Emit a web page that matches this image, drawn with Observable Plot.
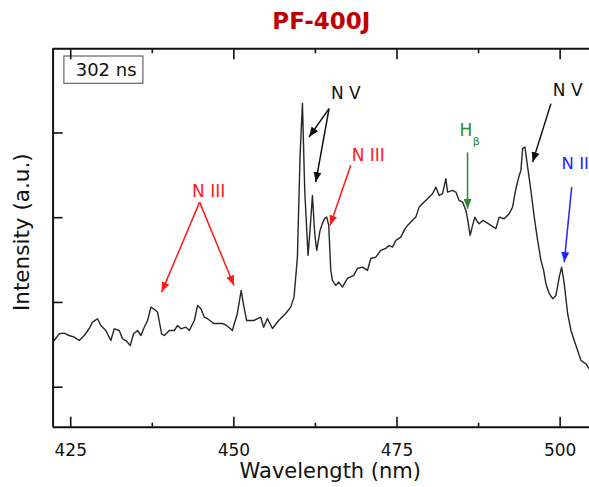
<!DOCTYPE html>
<html>
<head>
<meta charset="utf-8">
<script src="https://cdn.jsdelivr.net/npm/d3@7"></script>
<script src="https://cdn.jsdelivr.net/npm/@observablehq/plot@0.6"></script>
<style>
  html, body { margin: 0; padding: 0; background: #fff; }
  svg { display: block; }
</style>
</head>
<body>
<div id="chart"></div>
<script>
// ---- data ----
const xTicks = [425, 450, 475, 500];
const xMinor = [437.5, 462.5, 487.5];
const yTicks = [1, 2, 3, 4];
const xDomain = [422.3, 504.5];
const yDomain = [0.528, 4.993];

const wavelength = [
  422.47, 423.24, 424.00, 424.77, 425.54, 426.30, 427.07, 427.84, 428.34, 429.11,
  429.62, 430.38, 431.15, 431.67, 432.44, 432.94, 433.45, 434.13, 434.63, 435.25,
  435.75, 436.27, 436.78, 437.29, 437.90, 438.31, 438.93, 439.34, 440.11, 440.87,
  441.38, 441.89, 442.65, 443.18, 443.94, 444.45, 444.95, 445.48, 445.98,
  446.90, 448.24, 448.90, 449.77, 450.54, 451.12, 451.50, 451.96, 453.04, 454.11,
  454.57, 455.14, 455.91, 456.87, 457.94, 458.71, 459.22, 459.74, 460.14, 460.51,
  460.86, 461.37, 461.67, 462.04, 462.39, 462.70, 463.21, 463.57, 463.93, 464.23,
  464.54, 464.85, 465.11, 465.61, 466.07, 466.64, 467.41, 468.37, 468.94, 469.71,
  470.48, 470.98, 471.75, 472.52, 473.28, 473.79, 474.31, 474.82, 475.58, 476.09,
  476.61, 477.12, 477.88, 478.39, 479.16, 479.68, 480.44, 480.95, 481.46, 481.98,
  482.49, 482.75, 483.51, 484.02, 484.52, 485.05, 485.55, 485.81, 486.21, 486.58,
  486.93, 487.35, 487.59, 488.16, 488.62, 489.39, 490.15, 490.66, 491.43, 492.19,
  492.71, 493.22, 493.73, 493.99, 494.25, 494.60, 495.02, 495.52, 496.03, 496.55,
  497.06, 497.47, 497.82, 498.33, 498.85, 499.36, 499.86, 500.23, 500.63, 501.15,
  501.66, 502.16, 502.68, 503.19, 503.96, 504.46
];
const intensity = [
  1.551, 1.630, 1.638, 1.610, 1.590, 1.551, 1.610, 1.693, 1.767, 1.808,
  1.728, 1.669, 1.551, 1.689, 1.669, 1.571, 1.551, 1.492, 1.630, 1.669,
  1.610, 1.708, 1.787, 1.945, 1.914, 1.885, 1.630, 1.610, 1.669, 1.669,
  1.728, 1.689, 1.708, 1.669, 1.787, 1.965, 1.926, 1.826, 1.808,
  1.752, 1.752, 1.728, 1.669, 1.870, 2.142, 1.965, 1.787, 1.787, 1.826,
  1.708, 1.811, 1.693, 1.787, 1.870, 1.945, 2.063, 2.535, 3.715, 4.349,
  3.322, 2.555, 2.850, 3.263, 2.815, 2.614, 2.850, 2.933, 2.992, 3.007,
  2.909, 2.378, 2.260, 2.201, 2.240, 2.181, 2.283, 2.319, 2.401, 2.417,
  2.378, 2.519, 2.535, 2.614, 2.638, 2.673, 2.653, 2.732, 2.771, 2.850,
  2.909, 2.948, 3.007, 3.125, 3.184, 3.224, 3.283, 3.361, 3.263, 3.283,
  3.460, 3.302, 3.322, 3.302, 3.204, 3.184, 3.086, 2.988, 2.791, 2.909,
  3.007, 2.948, 2.929, 2.968, 2.948, 2.909, 2.870, 3.007, 2.988, 3.047,
  3.125, 3.342, 3.499, 3.558, 3.815, 3.834, 3.597, 3.322, 3.007, 2.732,
  2.496, 2.378, 2.221, 2.103, 2.044, 2.083, 2.299, 2.417, 2.221, 1.867,
  1.669, 1.551, 1.433, 1.315, 1.276, 1.217
];
const spectrum = wavelength.map((w, i) => ({w, v: intensity[i]}));

// annotation labels (centred)
const labelText  = ["N III", "N V", "N III", "H", "N V"];
const labelX     = [446.13, 467.15, 470.60, 485.55, 501.15];
const labelY     = [3.311, 4.468, 3.736, 4.031, 4.503];
const labelColor = ["#ff1a1a", "#111111", "#ff1a1a", "#2a8a2a", "#111111"];
// left-anchored label at the right edge
const edgeText = ["N II"];
const edgeX = [500.22];
const edgeY = [3.641];
const edgeColor = ["#2424ff"];
const subText = ["β"];
const subX = [487.16];
const subY = [3.901];

// annotation arrows
const arrowX1 = [444.75, 444.75, 464.59, 464.59, 467.91, 485.81, 498.59, 501.77];
const arrowY1 = [3.184, 3.184, 4.287, 4.287, 3.618, 3.770, 4.346, 3.361];
const arrowX2 = [438.93, 450.02, 461.52, 462.55, 464.74, 485.81, 495.78, 500.63];
const arrowY2 = [2.122, 2.201, 3.952, 3.420, 2.909, 3.106, 3.656, 2.476];
const arrowColor = ["#ff1a1a", "#ff1a1a", "#111111", "#111111", "#ff1a1a", "#2a8a2a", "#111111", "#2424ff"];

// time label box
const boxX = [424.03, 436.14];
const boxY = [4.580, 4.902];
const boxText = ["302 ns"];
const boxTextX = [430.43];
const boxTextY = [4.739];

const title = "PF-400J";
const xLabel = "Wavelength (nm)";
const yLabel = "Intensity (a.u.)";

// ---- chart ----
const FONT = "DejaVu Sans";
const tickStyle = {text: null, label: null, strokeWidth: 1.6, stroke: "#111"};
const chart = Plot.plot({
  width: 589,
  height: 487,
  marginLeft: 52.6,
  marginRight: 0,
  marginTop: 48.3,
  marginBottom: 60.3,
  style: {fontFamily: FONT, fontSize: "17px", background: "#fff", color: "#111"},
  x: {domain: xDomain, axis: null, label: null},
  y: {domain: yDomain, axis: null, label: null},
  marks: [
    // time box
    Plot.rect([0], {x1: () => boxX[0], x2: () => boxX[1], y1: () => boxY[0], y2: () => boxY[1],
      fill: "#fff", stroke: "#666", strokeWidth: 1.2}),
    Plot.text(boxText, {x: boxTextX, y: boxTextY, text: d => d, fontSize: 18, fill: "#111"}),
    // spectrum
    Plot.line(spectrum, {x: "w", y: "v", stroke: "#262626", strokeWidth: 1.4, curve: "linear"}),
    // arrows
    Plot.link(arrowColor, {x1: arrowX1, y1: arrowY1, x2: arrowX2, y2: arrowY2,
      stroke: arrowColor, strokeWidth: 1.5}),
    // labels
    Plot.text(labelText, {x: labelX, y: labelY, text: d => d, fill: labelColor,
      textAnchor: "middle", fontSize: 17}),
    Plot.text(edgeText, {x: edgeX, y: edgeY, text: d => d, fill: edgeColor,
      textAnchor: "start", fontSize: 16.5}),
    Plot.text(subText, {x: subX, y: subY, text: d => d, fill: "#2a8a2a", fontSize: 11}),
    // frame
    Plot.ruleX([xDomain[0]], {stroke: "#111", strokeWidth: 2}),
    Plot.ruleY([yDomain[0], yDomain[1]], {stroke: "#111", strokeWidth: 2}),
    // ticks
    Plot.axisX(xTicks, {anchor: "bottom", tickSize: -10, ...tickStyle}),
    Plot.axisX(xMinor, {anchor: "bottom", tickSize: -4, ...tickStyle}),
    Plot.axisX(xTicks, {anchor: "top", tickSize: -10, ...tickStyle}),
    Plot.axisX(xMinor, {anchor: "top", tickSize: -4, ...tickStyle}),
    Plot.axisY(yTicks, {anchor: "left", tickSize: -10, ...tickStyle}),
    Plot.axisX(xTicks, {anchor: "bottom", tickSize: 0, tickPadding: 17, fontSize: 17, fill: "#111", label: null, tickFormat: d => String(d)}),
    // titles
    Plot.text([title], {frameAnchor: "top", lineAnchor: "middle", dy: -27.3, fontSize: 23, fontWeight: "bold", fill: "#c00000"}),
    Plot.text([xLabel], {frameAnchor: "bottom", lineAnchor: "middle", dx: 9, dy: 43.6, fontSize: 21, fill: "#111"}),
    Plot.text([yLabel], {frameAnchor: "left", textAnchor: "middle", lineAnchor: "middle", dx: -30.6, dy: -5.8, rotate: -90, fontSize: 21.5, fill: "#111"})
  ]
});

// filled arrowheads
const ns = "http://www.w3.org/2000/svg";
const defs = document.createElementNS(ns, "defs");
chart.insertBefore(defs, chart.firstChild);
chart.querySelectorAll('g[aria-label="link"] path').forEach((p, i) => {
  const c = p.getAttribute("stroke") || p.parentNode.getAttribute("stroke") || "#111";
  const m = document.createElementNS(ns, "marker");
  m.setAttribute("id", "ah" + i);
  m.setAttribute("viewBox", "0 0 10 8");
  m.setAttribute("refX", "10");
  m.setAttribute("refY", "4");
  m.setAttribute("markerWidth", "10");
  m.setAttribute("markerHeight", "8");
  m.setAttribute("markerUnits", "userSpaceOnUse");
  m.setAttribute("orient", "auto");
  const tri = document.createElementNS(ns, "path");
  tri.setAttribute("d", "M0,0L10,4L0,8Z");
  tri.setAttribute("fill", c);
  m.appendChild(tri);
  defs.appendChild(m);
  p.setAttribute("marker-end", `url(#ah${i})`);
});
document.getElementById("chart").appendChild(chart);
</script>
</body>
</html>
